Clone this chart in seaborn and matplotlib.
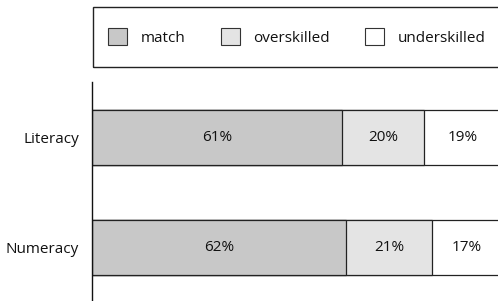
import numpy as np
import pandas as pd
import matplotlib
matplotlib.use("Agg")
import matplotlib.pyplot as plt
import seaborn as sns
from matplotlib.patches import Patch, Rectangle

# Data
skills = ["Literacy", "Numeracy"]
match = [61, 62]
overskilled = [20, 21]
underskilled = [19, 17]

series = ["match", "overskilled", "underskilled"]
colors = ["#c8c8c8", "#e4e4e4", "#ffffff"]

sns.set_style("white")
plt.rcParams["font.family"] = ["Open Sans", "DejaVu Sans"]
plt.rcParams["font.size"] = 11

df = pd.DataFrame({"skill": skills, "match": match,
                   "overskilled": overskilled, "underskilled": underskilled})
vals = df[series].to_numpy()
cum = vals.cumsum(axis=1)

fig = plt.figure(figsize=(4.98, 3.01), dpi=100)
ax = fig.add_axes([92 / 498, 0.003, 410 / 498, 0.725])

# stacked bars: draw cumulative totals from the largest down
for i in reversed(range(len(series))):
    sns.barplot(x=cum[:, i], y=df["skill"], orient="h", color=colors[i],
                edgecolor="#222222", linewidth=0.9, width=0.5, ax=ax,
                saturation=1)

for r in range(len(skills)):
    start = 0
    for i in range(len(series)):
        ax.text(start + vals[r, i] / 2, r, f"{vals[r, i]}%", ha="center",
                va="center", fontsize=11, color="#111111")
        start += vals[r, i]

ax.set_xlim(0, 100)
ax.set_ylim(1.48, -0.51)
ax.set_xlabel("")
ax.set_ylabel("")
ax.set_xticks([])
ax.tick_params(axis="y", length=0, pad=9.4, labelsize=11, labelcolor="#111111")
for s in ["top", "right", "bottom"]:
    ax.spines[s].set_visible(False)
ax.spines["left"].set_color("#111111")
ax.spines["left"].set_linewidth(1.0)

# legend box
fig.patches.append(Rectangle((93 / 498, 1 - 67 / 301), 410 / 498, 60 / 301,
                             transform=fig.transFigure, facecolor="none",
                             edgecolor="#222222", linewidth=1.0))
handles = [Patch(facecolor=c, edgecolor="#333333", linewidth=0.8) for c in colors]
fig.legend(handles, series, loc="center",
           bbox_to_anchor=(297 / 498, 1 - 37 / 301),
           ncol=3, frameon=False, fontsize=11, handlelength=1.25,
           handleheight=1.25, columnspacing=2.3, handletextpad=0.9,
           borderaxespad=0, labelcolor="#111111")

fig.savefig("out.png", dpi=100)
